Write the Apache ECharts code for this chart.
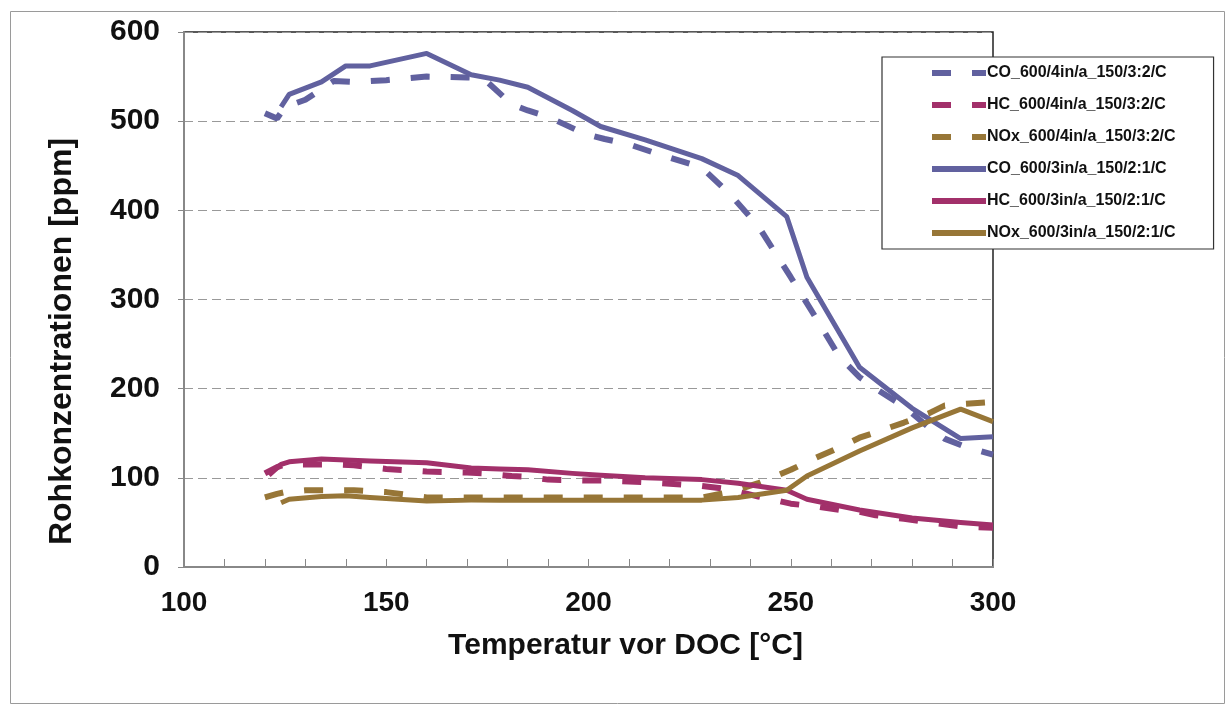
<!DOCTYPE html>
<html>
<head>
<meta charset="utf-8">
<script src="https://cdn.jsdelivr.net/npm/echarts@6/dist/echarts.min.js"></script>
<style>
  html, body { margin: 0; padding: 0; background: #fff; }
  #chart { width: 1231px; height: 709px; }
</style>
</head>
<body>
<div id="chart"></div>
<script>
// temperatures of the 4in (dashed) measurements
var temps4 = [120, 123, 125, 130, 137, 142, 150, 160, 170, 174, 181, 185, 190, 199, 204, 210, 218, 228, 235, 242, 250, 256, 262, 267, 271, 278, 284, 288, 293, 300];
var co4  = [509, 503, 516, 524, 545, 544, 546, 550, 549, 548, 519, 512, 505, 486, 480, 474, 462, 448, 418, 382, 325, 281, 236, 213, 200, 180, 157, 144, 135, 126];
var hc4  = [105, 112, 115, 115, 115, 114, 110, 107, 106, 105, 102, 101, 98, 97, 97, 96, 94, 91, 87, 79, 71, 68, 64, 62, 58, 54, 50, 48, 45, 44];
var nox4 = [78, 82, 84, 86, 86, 86, 84, 78, 78, 78, 78, 78, 78, 78, 78, 78, 78, 78, 84, 94, 109, 122, 134, 145, 151, 162, 172, 181, 183, 185];

// temperatures of the 3in (solid) measurements
var temps3 = [121, 124, 126, 134, 140, 146, 160, 171, 178, 185, 196, 203, 214, 228, 237, 249, 254, 267, 280, 292, 300];
var co3  = [null, 516, 530, 544, 562, 562, 576, 552, 546, 538, 512, 494, 479, 458, 439, 393, 325, 224, 178, 144, 146];
var hc3  = [103, 115, 118, 121, 120, 119, 117, 111, 110, 109, 105, 103, 100, 98, 94, 86, 76, 64, 55, 50, 47];
var nox3 = [null, 72, 76, 79, 80, 78, 74, 75, 75, 75, 75, 75, 75, 75, 78, 86, 102, 130, 156, 177, 163];

var xTicks = [100, 150, 200, 250, 300];
var yTicks = [0, 100, 200, 300, 400, 500, 600];

var CO_COLOR = "#61619f";
var HC_COLOR = "#a2306a";
var NOX_COLOR = "#977637";

function zip(xs, ys) {
  return xs.map(function (x, i) { return [x, ys[i]]; });
}

function dashed(name, xs, ys, color) {
  return {
    name: name, type: "line", data: zip(xs, ys),
    symbol: "none", connectNulls: false, z: 2,
    lineStyle: { color: color, width: 6, type: [19, 21], cap: "butt" },
    itemStyle: { color: color }
  };
}
function solid(name, xs, ys, color) {
  return {
    name: name, type: "line", data: zip(xs, ys),
    symbol: "none", connectNulls: false, z: 3,
    lineStyle: { color: color, width: 5, type: "solid", join: "round" },
    itemStyle: { color: color }
  };
}

var chart = echarts.init(document.getElementById("chart"));
var font = "'Liberation Sans', Arial, sans-serif";

chart.setOption({
  animation: false,
  backgroundColor: "#fff",
  textStyle: { fontFamily: font },
  graphic: [{
    type: "rect", left: 8, top: 9, z: -10,
    shape: { width: 1214, height: 692 },
    style: { fill: "none", stroke: "#9a9a9a", lineWidth: 1 }
  }],
  grid: {
    left: 184, right: 238, top: 32, bottom: 142,
    show: true, borderColor: "#222", borderWidth: 1.5
  },
  legend: {
    orient: "vertical",
    left: 882, top: 57,
    padding: [8, 38, 8, 47],
    itemWidth: 54, itemHeight: 14, itemGap: 16,
    backgroundColor: "#fff",
    borderColor: "#333", borderWidth: 1.2,
    itemStyle: { opacity: 0 },
    lineStyle: { width: 6 },
    textStyle: { fontFamily: font, fontWeight: "bold", fontSize: 16, color: "#111", padding: [0, 0, 0, -4] },
    data: ["CO_600/4in/a_150/3:2/C", "HC_600/4in/a_150/3:2/C", "NOx_600/4in/a_150/3:2/C",
           "CO_600/3in/a_150/2:1/C", "HC_600/3in/a_150/2:1/C", "NOx_600/3in/a_150/2:1/C"]
  },
  xAxis: {
    type: "value", min: xTicks[0], max: xTicks[xTicks.length - 1], interval: 50,
    name: "Temperatur vor DOC [°C]", nameLocation: "middle", nameGap: 64,
    nameTextStyle: { fontFamily: font, fontWeight: "bold", fontSize: 30, color: "#111", padding: [0, 0, 0, 74] },
    axisLine: { show: true, lineStyle: { color: "#888", width: 2 } },
    axisTick: { show: true, inside: true, length: 8, lineStyle: { color: "#888", width: 1 } },
    minorTick: { show: true, splitNumber: 5, length: 8, lineStyle: { color: "#888", width: 1 } },
    axisLabel: { fontFamily: font, fontWeight: "bold", fontSize: 28, color: "#111", margin: 22 },
    splitLine: { show: false }
  },
  yAxis: {
    type: "value", min: yTicks[0], max: yTicks[yTicks.length - 1], interval: 100,
    name: "Rohkonzentrationen [ppm]", nameLocation: "middle", nameGap: 106,
    nameTextStyle: { fontFamily: font, fontWeight: "bold", fontSize: 32, color: "#111", padding: [0, 84, 0, 0] },
    axisLine: { show: true, lineStyle: { color: "#888", width: 2 } },
    axisTick: { show: true, inside: false, length: 6, lineStyle: { color: "#888", width: 1 } },
    axisLabel: { fontFamily: font, fontWeight: "bold", fontSize: 30, color: "#111", margin: 24 },
    splitLine: { show: true, lineStyle: { color: "#999", width: 1, type: [9, 5] } }
  },
  series: [
    dashed("CO_600/4in/a_150/3:2/C", temps4, co4, CO_COLOR),
    dashed("HC_600/4in/a_150/3:2/C", temps4, hc4, HC_COLOR),
    dashed("NOx_600/4in/a_150/3:2/C", temps4, nox4, NOX_COLOR),
    solid("CO_600/3in/a_150/2:1/C", temps3, co3, CO_COLOR),
    solid("HC_600/3in/a_150/2:1/C", temps3, hc3, HC_COLOR),
    solid("NOx_600/3in/a_150/2:1/C", temps3, nox3, NOX_COLOR)
  ]
});
</script>
</body>
</html>
